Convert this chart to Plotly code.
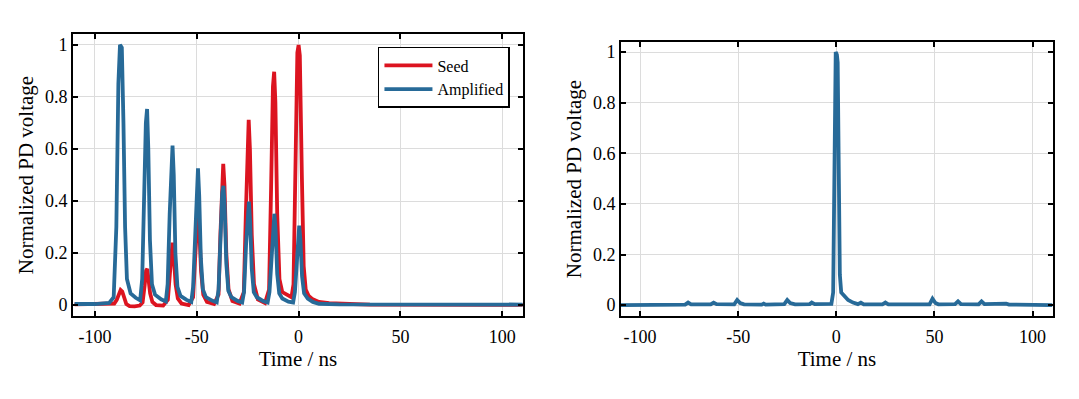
import plotly.graph_objects as go

# ---------------- data ----------------
# Left panel: Seed (red) trace
seed_t = [-110, -92, -90.5, -89.3, -88.3, -87.4, -86.6, -85.7, -84.6, -83.0, -80.5, -78.0,
          -76.6, -75.6, -74.9, -74.3, -73.7, -72.9, -71.8, -70.0, -66.5,
          -64.2, -63.2, -62.5, -61.9, -61.3, -60.4, -59.3, -57.5, -54.0,
          -51.8, -50.8, -50.0, -49.4, -48.8, -47.9, -46.8, -45.0, -41.5,
          -39.3, -38.4, -37.6, -37.0, -36.4, -35.5, -34.4, -32.5, -29.0,
          -26.9, -25.9, -25.1, -24.5, -23.9, -23.0, -21.9, -20.0, -16.5,
          -14.5, -13.5, -12.6, -12.0, -11.4, -10.5, -9.4, -8.0, -5.5, -3.5,
          -2.5, -1.6, -0.6, 0.0, 0.6, 1.6, 2.5, 3.5, 5.0, 7.0, 10.0, 15.0, 25.0, 35.0, 110]
seed_v = [0.003, 0.003, 0.006, 0.02, 0.045, 0.058, 0.052, 0.025, 0.004, -0.004, -0.005, -0.002,
          0.01, 0.075, 0.132, 0.139, 0.105, 0.045, 0.012, 0.0, -0.002,
          0.02, 0.12, 0.22, 0.24, 0.19, 0.08, 0.025, 0.006, 0.0,
          0.03, 0.18, 0.34, 0.37, 0.3, 0.13, 0.04, 0.012, 0.004,
          0.04, 0.27, 0.5, 0.543, 0.46, 0.2, 0.06, 0.016, 0.006,
          0.05, 0.35, 0.65, 0.712, 0.6, 0.27, 0.08, 0.022, 0.008,
          0.06, 0.45, 0.84, 0.897, 0.78, 0.35, 0.1, 0.05, 0.04, 0.03,
          0.08, 0.5, 0.97, 1.0, 0.96, 0.5, 0.15, 0.06, 0.035, 0.022, 0.012, 0.007, 0.005, 0.002, 0.001]

# Left panel: Amplified (blue) trace
amp_t = [-110, -100, -93.0, -90.8, -89.5, -88.5, -87.7, -86.8, -86.0, -85.2, -84.3, -82.5, -80.0, -77.8,
         -76.8, -75.8, -75.0, -74.4, -73.8, -73.0, -72.0, -70.5, -67.5, -65.2,
         -64.3, -63.3, -62.5, -61.9, -61.3, -60.5, -59.5, -58.0, -55.0, -52.7,
         -51.8, -50.8, -50.0, -49.4, -48.8, -48.0, -47.0, -45.5, -42.5, -40.2,
         -39.3, -38.3, -37.5, -36.9, -36.3, -35.5, -34.5, -33.0, -30.0, -27.7,
         -26.8, -25.8, -25.0, -24.4, -23.8, -23.0, -22.0, -20.5, -17.5, -15.2,
         -14.3, -13.3, -12.5, -11.9, -11.3, -10.5, -9.5, -8.0, -5.0, -2.7,
         -1.8, -0.8, -0.2, 0.3, 0.9, 1.7, 2.7, 4.5, 7.0, 10.0, 20.0, 110]
amp_v = [0.004, 0.004, 0.008, 0.03, 0.3, 0.85, 1.0, 0.99, 0.7, 0.3, 0.1, 0.045, 0.028, 0.018,
         0.1, 0.45, 0.7, 0.754, 0.6, 0.25, 0.08, 0.04, 0.022, 0.014,
         0.08, 0.35, 0.56, 0.613, 0.5, 0.2, 0.07, 0.035, 0.02, 0.012,
         0.07, 0.3, 0.48, 0.526, 0.42, 0.18, 0.06, 0.03, 0.017, 0.01,
         0.06, 0.27, 0.43, 0.458, 0.38, 0.16, 0.055, 0.03, 0.016, 0.01,
         0.05, 0.23, 0.37, 0.398, 0.32, 0.14, 0.05, 0.03, 0.016, 0.01,
         0.05, 0.2, 0.33, 0.351, 0.29, 0.12, 0.045, 0.025, 0.013, 0.01,
         0.05, 0.18, 0.29, 0.305, 0.25, 0.11, 0.045, 0.025, 0.012, 0.005, 0.003, 0.002]

# Right panel: Amplified (blue) trace
right_t = [-110, -90, -77, -75.5, -74, -64, -62.5, -61, -52, -50.5, -49, -47, -38, -37, -36,
           -26.5, -25, -23.5, -21, -13.5, -12.5, -11, -2.5, -1.6, -0.9, -0.3, 0.3, 0.7, 1.3,
           1.8, 2.5, 4.0, 6.0, 8.5, 11, 12.5, 14, 23.5, 25, 26.5, 47.5, 49, 50.5, 52,
           60.5, 62, 63.5, 72.5, 74, 75.5, 85, 86.5, 88, 110]
right_v = [0.0, 0.002, 0.002, 0.01, 0.003, 0.003, 0.01, 0.004, 0.003, 0.02, 0.008, 0.003, 0.002, 0.006, 0.002,
           0.004, 0.02, 0.008, 0.003, 0.004, 0.01, 0.004, 0.005, 0.05, 0.6, 1.0, 0.99, 0.96, 0.5,
           0.12, 0.05, 0.035, 0.02, 0.01, 0.004, 0.01, 0.003, 0.003, 0.01, 0.003, 0.003, 0.025, 0.008, 0.003,
           0.004, 0.015, 0.004, 0.003, 0.015, 0.004, 0.003, 0.006, 0.002, 0.0]

x_tickvals = [-100, -50, 0, 50, 100]
x_ticktext = ["-100", "-50", "0", "50", "100"]
y_tickvals = [0, 0.2, 0.4, 0.6, 0.8, 1]
y_ticktext = ["0", "0.2", "0.4", "0.6", "0.8", "1"]

RED = "#dc1420"
BLUE = "#276a98"
FONT = "Liberation Serif, Times New Roman, serif"

fig = go.Figure()
fig.add_trace(go.Scatter(x=seed_t, y=seed_v, mode="lines", name="Seed",
                         line=dict(color=RED, width=3.8), xaxis="x", yaxis="y"))
fig.add_trace(go.Scatter(x=amp_t, y=amp_v, mode="lines", name="Amplified",
                         line=dict(color=BLUE, width=3.8), xaxis="x", yaxis="y"))
fig.add_trace(go.Scatter(x=right_t, y=right_v, mode="lines", name="Amplified",
                         showlegend=False,
                         line=dict(color=BLUE, width=3.8), xaxis="x2", yaxis="y2"))

axis_common = dict(showline=True, linecolor="black", linewidth=1.6, mirror="allticks",
                   ticks="inside", ticklen=5, tickwidth=1.6, tickcolor="black",
                   showgrid=True, gridcolor="#dcdcdc", gridwidth=1, zeroline=False,
                   automargin=False,
                   tickfont=dict(family=FONT, size=18, color="black"))

title_font = dict(family=FONT, size=21, color="black")

fig.update_layout(
    width=1079, height=399,
    margin=dict(l=0, r=0, t=0, b=0, autoexpand=False),
    paper_bgcolor="white", plot_bgcolor="white",
    font=dict(family=FONT, size=18, color="black"),
    showlegend=True,
    legend=dict(x=0.4652, y=0.9023, xanchor="right", yanchor="top",
                bgcolor="white", bordercolor="black", borderwidth=1.5,
                font=dict(family=FONT, size=16, color="black"),
                tracegroupgap=0, itemwidth=48),
    xaxis=dict(domain=[0.0602, 0.4773], range=[-110.8, 110.2], anchor="y",
               tickvals=x_tickvals, ticktext=x_ticktext, ticklabelstandoff=4,
               title=dict(text="Time / ns", font=title_font, standoff=4),
               **axis_common),
    yaxis=dict(domain=[0.2281, 0.9348], range=[-0.042, 1.042], anchor="x",
               tickvals=y_tickvals, ticktext=y_ticktext,
               title=dict(text="Normalized PD voltage", font=title_font, standoff=6),
               **axis_common),
    xaxis2=dict(domain=[0.5681, 0.9685], range=[-109.7, 110.4], anchor="y2",
                tickvals=x_tickvals, ticktext=x_ticktext, ticklabelstandoff=4,
                title=dict(text="Time / ns", font=title_font, standoff=0),
                **axis_common),
    yaxis2=dict(domain=[0.2281, 0.9148], range=[-0.043, 1.04], anchor="x2",
                tickvals=y_tickvals, ticktext=y_ticktext,
                title=dict(text="Normalized PD voltage", font=title_font, standoff=6),
                **axis_common),
)

fig.write_html("out.html")
